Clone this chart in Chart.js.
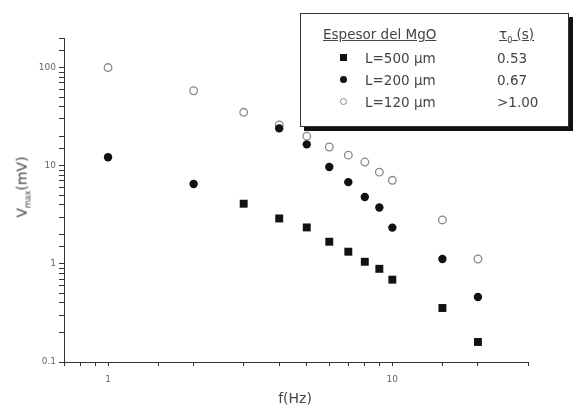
<!DOCTYPE html>
<html>
<head>
<meta charset="utf-8">
<script src="https://cdn.jsdelivr.net/npm/chart.js@4/dist/chart.umd.min.js"></script>
<style>
  body { margin: 0; background: #fff; }
  #wrap { position: relative; width: 580px; height: 409px; font-family: "DejaVu Sans", sans-serif; color: #444; }
  canvas { position: absolute; left: 0; top: 0; }
  .ytitle { position: absolute; left: 23px; top: 187px; transform: translate(-50%, -50%) rotate(-90deg); font-size: 14px; white-space: nowrap; }
  .ytitle sub { font-size: 8px; }
  .xtitle { position: absolute; left: 295px; top: 398px; transform: translate(-50%, -50%); font-size: 14px; }
  #legend { position: absolute; left: 300px; top: 13px; width: 267px; height: 112px; border: 1px solid #333; box-shadow: 4px 4px 0 #111; background: #fff; font-size: 13.5px; }
  #legend .h { position: absolute; top: 12px; text-decoration: underline; }
  #legend .row { position: absolute; left: 0; width: 100%; height: 16px; }
  #legend .mk { position: absolute; left: 39px; top: 4px; width: 7px; height: 7px; }
  #legend .lab { position: absolute; left: 64px; top: 0; }
  #legend .val { position: absolute; left: 196px; top: 0; }
</style>
</head>
<body>
<div id="wrap">
  <canvas id="c" width="580" height="409"></canvas>
  <div class="ytitle">V<sub>max</sub>(mV)</div>
  <div class="xtitle">f(Hz)</div>
  <div id="legend"></div>
</div>
<script>
// frequencies (Hz)
const freq = [1, 2, 3, 4, 5, 6, 7, 8, 9, 10, 15, 20];
// Vmax (mV) for each MgO thickness
const vL500 = [null, null, 4.1, 2.9, 2.35, 1.68, 1.33, 1.05, 0.89, 0.69, 0.355, 0.16];
const vL200 = [12.2, 6.5, null, 24, 16.5, 9.7, 6.8, 4.8, 3.75, 2.34, 1.12, 0.46];
const vL120 = [100, 58, 35, 26, 20, 15.5, 12.8, 10.9, 8.6, 7.1, 2.8, 1.12];

const seriesNames = ['L=500 µm', 'L=200 µm', 'L=120 µm'];
const tau = ['0.53', '0.67', '>1.00'];
const xLabels = [1, 10];
const yLabels = [0.1, 1, 10, 100];

const pts = vals => freq.map((f, i) => ({ x: f, y: vals[i] })).filter(p => p.y !== null);

const ctx = document.getElementById('c').getContext('2d');
new Chart(ctx, {
  type: 'scatter',
  data: {
    datasets: [
      { label: seriesNames[0], data: pts(vL500), pointStyle: 'rect', pointRadius: 5.6,
        backgroundColor: '#111', borderColor: '#111', borderWidth: 0 },
      { label: seriesNames[1], data: pts(vL200), pointStyle: 'circle', pointRadius: 4.2,
        backgroundColor: '#111', borderColor: '#111', borderWidth: 0 },
      { label: seriesNames[2], data: pts(vL120), pointStyle: 'circle', pointRadius: 3.8,
        backgroundColor: '#fff', borderColor: '#888', borderWidth: 1.3 }
    ]
  },
  options: {
    responsive: false,
    animation: false,
    layout: { padding: { left: 0, right: 52, top: 38, bottom: 0 } },
    plugins: { legend: { display: false }, tooltip: { enabled: false } },
    scales: {
      x: {
        type: 'logarithmic', min: 0.7, max: 30,
        grid: { drawOnChartArea: false, drawTicks: true, tickLength: 4, color: '#333' },
        border: { color: '#333', width: 1 },
        ticks: {
          autoSkip: false, maxRotation: 0, padding: 8,
          font: { size: 9, family: 'DejaVu Sans' }, color: '#666',
          callback: v => xLabels.includes(v) ? String(v) : ''
        },
        afterFit: s => { s.height = 47; }
      },
      y: {
        type: 'logarithmic', min: 0.1, max: 200,
        grid: { drawOnChartArea: false, drawTicks: true, tickLength: 5, color: '#333' },
        border: { color: '#333', width: 1 },
        ticks: {
          autoSkip: false, padding: 3,
          font: { size: 9, family: 'DejaVu Sans' }, color: '#666',
          callback: v => yLabels.includes(v) ? String(v) : ''
        },
        afterFit: s => { s.width = 64; }
      }
    }
  }
});

// legend box
const lg = document.getElementById('legend');
lg.innerHTML = '<div class="h" style="left:22px">Espesor del MgO</div>' +
  '<div class="h" style="left:198px">τ<sub style="font-size:8px">0</sub> (s)</div>';
const mkStyle = [
  'background:#111',
  'background:#111;border-radius:50%',
  'background:#fff;border:1.2px solid #888;border-radius:50%;width:5px;height:5px'
];
seriesNames.forEach((n, i) => {
  const r = document.createElement('div');
  r.className = 'row';
  r.style.top = (36 + i * 22) + 'px';
  r.innerHTML = '<div class="mk" style="' + mkStyle[i] + '"></div>' +
    '<div class="lab">' + n + '</div><div class="val">' + tau[i] + '</div>';
  lg.appendChild(r);
});
</script>
</body>
</html>
